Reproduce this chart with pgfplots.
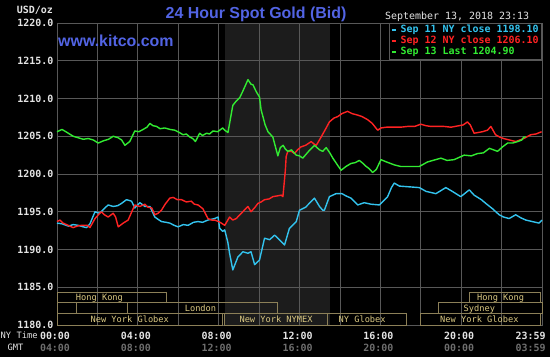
\documentclass[border=0pt]{standalone}
\usepackage{pgfplots}
\pgfplotsset{compat=1.18}
\usepackage{fontspec}
\setmainfont{Liberation Sans}
\newfontfamily\mono{DejaVu Sans Mono}
\definecolor{gcyan}{RGB}{51,195,238}
\definecolor{gred}{RGB}{255,35,35}
\definecolor{ggreen}{RGB}{50,235,50}
\definecolor{gridc}{RGB}{88,88,88}
\definecolor{nyshade}{RGB}{28,28,28}
\definecolor{kblue}{RGB}{82,100,228}
\definecolor{sess}{RGB}{140,128,88}
\definecolor{sesstext}{RGB}{218,200,130}
\definecolor{lgray}{RGB}{228,228,228}
\definecolor{dgray}{RGB}{110,110,110}

\pgfplotstableread{
h v
0 1193.5
0.25 1193.4
0.56 1193.1
0.8 1193.3
1.05 1193.2
1.3 1193.0
1.46 1192.9
1.63 1193.4
1.88 1195.0
2.1 1194.8
2.37 1195.5
2.53 1195.9
2.78 1195.7
3.0 1195.8
3.19 1196.1
3.44 1196.6
3.69 1196.4
3.85 1195.5
4.1 1196.2
4.35 1195.7
4.6 1195.7
4.84 1194.3
5.0 1194.0
5.17 1193.7
5.4 1193.6
5.58 1193.5
5.8 1193.2
5.99 1193.0
6.25 1193.3
6.49 1193.2
6.75 1193.6
6.98 1193.7
7.2 1193.6
7.47 1193.9
7.8 1194.1
7.97 1194.3
8.05 1192.8
8.2 1192.4
8.3 1192.6
8.45 1191.0
8.54 1189.5
8.7 1187.3
8.95 1189.0
9.2 1189.7
9.45 1189.5
9.6 1189.7
9.78 1188.0
10.02 1188.6
10.27 1191.5
10.52 1191.3
10.77 1191.9
11.0 1191.3
11.26 1190.6
11.5 1192.8
11.84 1193.7
12.0 1195.2
12.3 1195.6
12.41 1195.9
12.74 1196.8
12.99 1195.7
13.15 1195.2
13.23 1195.2
13.48 1197.0
13.81 1197.4
14.1 1197.4
14.3 1197.1
14.55 1196.8
14.88 1195.9
15.2 1196.2
15.54 1196.0
15.95 1195.9
16.36 1197.0
16.55 1198.2
16.69 1198.8
16.94 1198.4
17.43 1198.3
17.93 1198.2
18.26 1197.7
18.75 1197.4
19.24 1198.2
19.56 1197.7
19.98 1197.0
20.4 1197.9
20.64 1197.2
21.0 1196.6
21.22 1196.1
21.55 1195.4
21.88 1194.6
22.1 1194.3
22.37 1194.1
22.7 1194.6
22.95 1194.2
23.2 1193.9
23.52 1193.7
23.85 1193.5
24.0 1193.9
}\sepeleven

\pgfplotstableread{
h v
0 1193.7
0.15 1193.9
0.3 1193.5
0.55 1193.2
0.8 1192.9
1.0 1193.1
1.2 1193.2
1.5 1193.2
1.63 1192.9
1.88 1194.1
2.05 1194.6
2.2 1195.0
2.35 1194.6
2.53 1194.3
2.78 1194.8
2.9 1194.3
3.03 1193.0
3.28 1193.5
3.52 1193.9
3.7 1195.0
3.85 1195.9
4.1 1195.7
4.35 1196.0
4.5 1195.6
4.69 1195.5
4.84 1194.6
5.0 1194.8
5.17 1195.2
5.35 1196.0
5.58 1196.8
5.75 1196.9
5.95 1196.6
6.16 1196.6
6.4 1196.3
6.65 1196.4
6.8 1196.0
6.98 1195.9
7.22 1195.4
7.47 1194.1
7.65 1193.9
7.8 1193.9
8.0 1193.7
8.13 1193.5
8.3 1193.2
8.54 1194.3
8.7 1193.9
8.87 1194.1
9.12 1194.8
9.3 1195.3
9.45 1195.7
9.6 1195.0
9.8 1195.6
9.94 1196.1
10.1 1196.3
10.27 1196.6
10.5 1196.7
10.68 1197.0
10.9 1197.1
11.1 1197.2
11.18 1197.0
11.3 1200.5
11.34 1202.3
11.42 1203.0
11.6 1203.0
11.75 1202.7
11.9 1203.2
12.08 1203.6
12.3 1203.8
12.58 1204.3
12.7 1204.0
12.83 1203.8
13.07 1204.9
13.3 1206.0
13.48 1206.9
13.7 1207.4
13.89 1207.6
14.1 1208.0
14.38 1208.3
14.6 1208.0
14.88 1207.8
15.1 1207.6
15.37 1207.2
15.6 1206.7
15.87 1205.8
16.03 1206.1
16.3 1206.2
16.7 1206.2
17.0 1206.2
17.35 1206.3
17.7 1206.3
18.0 1206.6
18.25 1206.4
18.5 1206.3
18.8 1206.3
19.15 1206.3
19.5 1206.2
19.9 1206.4
20.1 1206.5
20.31 1206.9
20.45 1206.5
20.64 1205.4
20.85 1205.5
21.05 1205.6
21.3 1205.8
21.47 1206.3
21.7 1205.2
21.9 1204.9
22.1 1204.7
22.4 1204.5
22.7 1204.3
22.9 1204.5
23.1 1204.7
23.44 1205.2
23.7 1205.3
23.98 1205.6
}\septwelve

\pgfplotstableread{
h v
0 1205.6
0.25 1205.9
0.5 1205.5
0.8 1205.0
1.05 1204.8
1.3 1204.6
1.55 1204.7
1.8 1204.5
2.04 1204.1
2.3 1204.4
2.55 1204.6
2.78 1205.0
3.03 1204.8
3.2 1204.5
3.36 1203.8
3.6 1204.3
3.85 1205.7
4.05 1205.6
4.26 1205.9
4.45 1206.2
4.6 1206.7
4.75 1206.4
4.93 1206.3
5.1 1206.0
5.33 1206.1
5.6 1205.9
5.83 1205.8
6.05 1205.5
6.24 1205.2
6.4 1205.3
6.57 1204.9
6.72 1204.7
6.85 1204.3
7.06 1205.4
7.2 1205.1
7.4 1205.4
7.55 1205.3
7.72 1205.7
7.95 1205.6
8.2 1206.1
8.3 1205.8
8.46 1205.5
8.7 1209.1
8.85 1209.6
9.04 1210.1
9.2 1211.0
9.45 1212.5
9.6 1211.9
9.7 1211.8
9.86 1210.9
10.02 1210.2
10.1 1208.5
10.3 1206.5
10.44 1205.6
10.68 1204.9
10.93 1202.4
11.05 1203.5
11.19 1203.8
11.3 1203.3
11.42 1203.0
11.6 1203.2
11.84 1202.5
12.0 1202.4
12.16 1202.1
12.45 1203.0
12.74 1203.8
12.99 1203.2
13.15 1203.0
13.32 1203.5
13.5 1202.8
13.65 1202.1
13.85 1201.3
14.06 1200.5
14.3 1201.0
14.55 1201.4
14.75 1201.5
14.96 1201.8
15.1 1201.5
15.3 1201.0
15.45 1200.7
15.62 1200.2
15.8 1200.6
16.03 1201.9
16.3 1201.6
16.7 1201.2
17.0 1201.0
17.35 1201.0
17.65 1201.0
17.93 1201.0
18.34 1201.6
18.6 1201.8
19.0 1202.1
19.3 1201.8
19.65 1201.9
19.9 1202.2
20.15 1202.5
20.5 1202.4
20.8 1202.7
21.1 1202.8
21.4 1203.4
21.6 1203.2
21.8 1203.0
22.05 1203.6
22.3 1204.1
22.55 1204.1
22.8 1204.3
23.0 1204.5
23.1 1204.9
23.22 1204.9
}\septhirteen

\begin{document}
\begin{tikzpicture}
\begin{axis}[
  at={(57bp,32bp)}, anchor=south west,
  width=485bp, height=302bp, scale only axis,
  xmin=0, xmax=24, ymin=1180, ymax=1220,
  set layers, clip=false,
  axis line style={gridc, line width=0.8bp},
  xtick={0,4,8,12,16,20,23.54},
  xticklabels={{00:00\\\color{dgray}04:00},{04:00\\\color{dgray}08:00},{08:00\\\color{dgray}12:00},{12:00\\\color{dgray}16:00},{16:00\\\color{dgray}20:00},{20:00\\\color{dgray}00:00},{23:59\\\color{dgray}03:59}},
  minor xtick={2,4,...,22},
  xminorgrids=true, xmajorgrids=false,
  ytick={1180,1185,...,1220},
  yticklabels={1180.0,1185.0,1190.0,1195.0,1200.0,1205.0,1210.0,1215.0,1220.0},
  ymajorgrids=true,
  grid style={gridc, line width=0.8bp},
  minor grid style={gridc, line width=0.8bp},
  major tick length=0pt, minor tick length=0pt,
  yticklabel style={font=\mono\bfseries\fontsize{10}{12}\selectfont, text=lgray},
  xticklabel style={font=\mono\bfseries\fontsize{10}{12}\selectfont, text=lgray, align=center, yshift=-3.4bp, xshift=-2bp},
  legend style={at={(1,1)}, anchor=north east, draw=gridc, line width=0.8bp, fill=black,
    font=\mono\bfseries\fontsize{10}{11}\selectfont, inner xsep=2bp, inner ysep=1.3bp,
    nodes={inner xsep=1bp, inner ysep=0pt, text height=8bp, text depth=3bp},
    cells={anchor=west}},
  legend image code/.code={\draw[#1, line width=1.5bp] (0bp,0bp) -- (4bp,0bp);},
]
\begin{pgfonlayer}{axis background}
\fill[black] (rel axis cs:-0.11753,-0.10596) rectangle (rel axis cs:1.01649,1.07616);
\fill[nyshade] (axis cs:8.33,1180) rectangle (axis cs:13.5,1220);
\end{pgfonlayer}

% trading session bars
\begin{scope}[sess, line width=0.8bp]
\draw (axis cs:0,1183.05) rectangle (axis cs:5.43,1184.37);
\draw (axis cs:20.4,1183.05) rectangle (axis cs:23.9,1184.37);
\draw (axis cs:0,1181.59) rectangle (axis cs:0.94,1183.05);
\draw (axis cs:0.94,1181.59) rectangle (axis cs:3.46,1183.05);
\draw (axis cs:3.46,1181.59) rectangle (axis cs:10.9,1183.05);
\draw (axis cs:18.86,1181.59) rectangle (axis cs:24,1183.05);
\draw (axis cs:0,1180) rectangle (axis cs:8.2,1181.59);
\draw (axis cs:8.3,1180) rectangle (axis cs:13.4,1181.59);
\draw (axis cs:13.4,1180) rectangle (axis cs:17.3,1181.59);
\draw (axis cs:18.0,1180) rectangle (axis cs:23.9,1181.59);
\end{scope}
\begin{scope}[every node/.style={anchor=base, inner sep=0pt, text=sesstext, font=\mono\fontsize{8.7}{9}\selectfont}]
\node at (axis cs:2.1,1183.31) {Hong Kong};
\node at (axis cs:21.95,1183.31) {Hong Kong};
\node at (axis cs:7.1,1181.85) {London};
\node at (axis cs:20.9,1181.85) {Sydney};
\node at (axis cs:3.6,1180.31) {New York Globex};
\node at (axis cs:10.84,1180.31) {New York NYMEX};
\node at (axis cs:15.1,1180.31) {NY Globex};
\node at (axis cs:20.9,1180.31) {New York Globex};
\end{scope}

\addplot[gcyan, line width=1.4bp, line join=round] table[x=h, y=v] {\sepeleven};
\addlegendentry[text=gcyan]{\hspace{3bp}Sep 11 NY close 1198.10\hspace{4bp}}
\addplot[gred, line width=1.4bp, line join=round] table[x=h, y=v] {\septwelve};
\addlegendentry[text=gred]{\hspace{3bp}Sep 12 NY close 1206.10\hspace{4bp}}
\addplot[ggreen, line width=1.4bp, line join=round] table[x=h, y=v] {\septhirteen};
\addlegendentry[text=ggreen]{\hspace{3bp}Sep 13 Last 1204.90}
\end{axis}

\node[anchor=base, inner sep=0pt, text=kblue, font=\bfseries\fontsize{16}{18}\selectfont] at (256bp,338bp) {24 Hour Spot Gold (Bid)};
\node[anchor=base west, inner sep=0pt, text=kblue, font=\bfseries\fontsize{16}{18}\selectfont] at (58bp,310bp) {www.kitco.com};
\node[anchor=base west, inner sep=0pt, text=lgray, font=\mono\fontsize{10}{11}\selectfont] at (385bp,337.5bp) {September 13, 2018 23:13};
\node[anchor=base east, inner sep=0pt, text=lgray, font=\mono\bfseries\fontsize{10}{11}\selectfont] at (53bp,343.7bp) {USD/oz};
\node[anchor=base west, inner sep=0pt, text=lgray, font=\mono\fontsize{8.8}{10}\selectfont] at (0.5bp,18.7bp) {NY Time};
\node[anchor=base, inner sep=0pt, text=lgray, font=\mono\fontsize{8.8}{10}\selectfont] at (15.5bp,7bp) {GMT};
\end{tikzpicture}
\end{document}
